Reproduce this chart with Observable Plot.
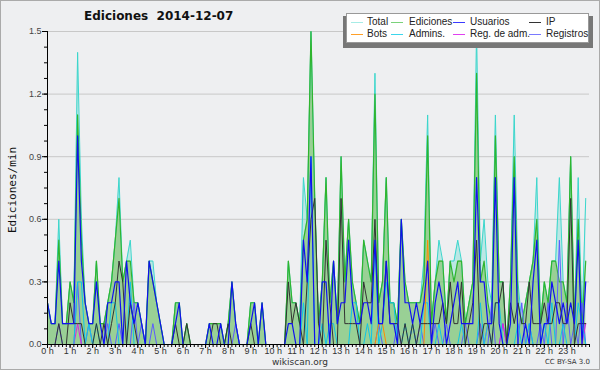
<!DOCTYPE html>
<html><head><meta charset="utf-8">
<script src="https://cdn.jsdelivr.net/npm/d3@7"></script>
<script src="https://cdn.jsdelivr.net/npm/@observablehq/plot@0.6"></script>
<style>
html,body{margin:0;padding:0;background:#eeeff1}
#wrap{position:relative;width:600px;height:370px;background:#eeeff1;overflow:hidden;font-family:"Liberation Sans",Arial,sans-serif}
#chart{position:absolute;left:0;top:0}
#frame{position:absolute;left:0;top:0;width:598px;height:368px;border:1px solid #aaaaaa;pointer-events:none}
#title{position:absolute;left:84px;top:9px;font:bold 12px "DejaVu Sans",sans-serif;color:#111;white-space:pre}
#ylab{position:absolute;left:12px;top:190px;transform:translate(-50%,-50%) rotate(-90deg);font:11px "DejaVu Sans Mono",monospace;color:#111;white-space:nowrap}
#site{position:absolute;left:300px;top:357px;transform:translateX(-50%);font:9px "DejaVu Sans",sans-serif;color:#333;line-height:10px}
#cc{position:absolute;right:10px;top:358px;font:7px "DejaVu Sans",sans-serif;color:#333;line-height:8px}
#legshadow{position:absolute;left:343px;top:16px;width:250px;height:32px;background:#777}
#legend{position:absolute;left:346px;top:13px;width:243px;height:30px;background:#fff;border:1px solid #999;box-sizing:border-box}
.lt{position:absolute;font:10px "Liberation Sans",Arial,sans-serif;color:#222;white-space:nowrap;line-height:12px}
.ls{position:absolute;height:0;border-top:1px solid}
</style></head>
<body>
<div id="wrap">
  <div id="chart"></div>
  <div id="title">Ediciones  2014-12-07</div>
  <div id="ylab">Ediciones/min</div>
  <div id="site">wikiscan.org</div>
  <div id="cc">CC BY-SA 3.0</div>
  <div id="legshadow"></div>
  <div id="legend"></div>
  <div id="frame"></div>
</div>
<script>
// 10-minute bins, values in edits per minute
const binMinutes = d3.range(144).map(i => i * 10);

const total = [
 .2,.1,.1,.6,.1,.1,.3,.2,1.4,.6, .2,.1,.1,.4,.1,.1,.2,.3,.5,.8,
 .3,.4,.5,.2,.2,.1,0,.4,.4,.2, .1,0,0,0,.2,.2,0,.1,0,0,
 0,0,0,.1,.1,.1,.1,0,.1,.3, .1,0,0,0,.2,.2,0,.2,0,0,
 0,0,0,0,.4,.2,.2,.1,.8,.6, 1.5,.7,.1,.3,.8,.2,.4,.1,.9,.3,
 .6,.3,.2,.1,.5,.4,.3,1.3,.2,.3, .8,.2,.2,.1,.6,.3,.2,.2,.2,.2,
 .4,1.1,.1,.3,.5,.4,.1,.4,.4,.5, .4,.1,.2,.3,1.5,.4,.6,.3,.2,1.1,
 .3,.3,0,.3,1.1,.3,.1,.2,.3,.4, .8,.1,.3,.2,.4,.4,.8,.3,.2,.9,
 .1,.8,.1,.7
];
const ediciones = [
 .2,.1,.1,.5,.1,.1,.3,.2,1.1,.5, .2,.1,.1,.4,.1,.1,.2,.3,.5,.7,
 .3,.4,.4,.2,.2,.1,0,.4,.3,.2, .1,0,0,0,.2,.2,0,.1,0,0,
 0,0,0,.1,.1,.1,.1,0,.1,.3, .1,0,0,0,.2,.2,0,.2,0,0,
 0,0,0,0,.4,.2,.2,.1,.5,.6, 1.5,.7,.1,.3,.8,.2,.4,.1,.9,.3,
 .6,.3,.2,.1,.5,.4,.3,1.2,.2,.3, .8,.2,.2,.1,.6,.3,.2,.2,.2,.2,
 .3,1.0,.1,.3,.4,.4,.1,.4,.3,.4, .4,.1,.2,.3,1.3,.3,.4,.2,.1,1.0,
 .3,.3,0,.3,.9,.2,.1,.2,.3,.4, .6,.1,.3,.2,.4,.4,.3,.3,.2,.9,
 .1,.6,.1,.4
];
const usuarios = [
 .2,.1,.1,.4,.1,.1,.1,.1,1.0,.4, .2,.1,.1,.3,.1,0,.2,.2,.3,.3,
 0,.4,.2,.1,.2,.1,0,.4,.3,.2, .1,0,0,0,.1,.2,0,0,0,0,
 0,0,0,.1,0,0,.1,0,0,.3, .1,0,0,0,.1,.2,0,.2,0,0,
 0,0,0,0,.1,.1,0,0,.5,.3, .9,0,0,.3,.3,0,.4,.1,.2,.2,
 .5,.2,.1,.1,.2,.2,.1,.5,.1,.1, .4,.1,.1,0,.6,.2,.2,.1,.2,.1,
 .2,.4,0,.2,.3,.2,0,.1,.2,.3, .1,.1,.1,.1,.8,.3,.3,.1,.1,.8,
 .1,0,0,.1,.8,0,0,.1,0,.3, .5,0,.1,.1,.3,.2,.1,.2,.1,.2,
 .1,.5,0,.3
];
const ip = [
 0,0,0,.1,0,0,.2,.1,.1,.1, 0,0,0,.1,0,.1,0,.1,.2,.4,
 .3,0,.2,.1,0,0,0,0,0,0, 0,0,0,0,.1,0,0,.1,0,0,
 0,0,0,0,.1,.1,0,0,.1,0, 0,0,0,0,.1,0,0,0,0,0,
 0,0,0,0,.3,.1,.2,.1,0,.3, .6,.7,.1,0,.5,.2,0,0,.7,.1,
 .1,.1,.1,0,.3,.2,.2,.6,.1,.1, .4,.1,.1,.1,0,.1,0,.1,0,.1,
 .1,.1,.1,.1,.1,.2,.1,.3,.1,.1, .3,0,.1,.2,.5,0,.1,.1,0,.2,
 .2,.3,0,.2,.1,.2,.1,.1,.3,.1, .1,.1,.2,.1,.1,.2,.2,.1,.1,.7,
 0,.1,.1,.1
];
const bots = [
 0,0,0,0,0,0,0,0,0,0, 0,0,0,0,0,0,0,0,0,0,
 0,0,0,0,0,0,0,0,0,0, 0,0,0,0,0,0,0,0,0,0,
 0,0,0,0,0,0,0,0,0,0, 0,0,0,0,0,0,0,0,0,0,
 0,0,0,0,0,0,0,0,0,0, 0,0,0,0,0,0,0,0,0,0,
 0,0,0,0,0,0,0,0,.1,.1, 0,0,0,0,0,0,0,0,0,0,
 0,.5,0,0,0,0,0,0,0,0, 0,0,0,0,0,0,0,0,0,0,
 0,0,0,0,0,0,0,0,0,0, 0,0,0,0,0,0,0,0,0,0,
 0,0,0,0
];
const admins = [
 0,0,0,0,0,0,0,0,.3,.3, 0,.1,0,.1,0,0,0,.2,.2,0,
 0,0,.3,0,0,0,0,0,0,0, 0,0,0,0,0,0,0,0,0,0,
 0,0,0,0,0,0,0,0,0,0, 0,0,0,0,0,0,0,0,0,0,
 0,0,0,0,0,0,0,0,.2,0, .9,0,0,.1,0,.1,.1,0,0,0,
 0,.2,.2,0,0,.1,0,.5,0,.1, .3,.2,.2,0,0,.1,0,.1,0,0,
 .2,.2,0,0,.1,0,0,0,0,0, .1,0,0,0,0,.2,0,.1,0,.2,
 .2,0,0,0,0,.1,0,0,.1,0, 0,0,.1,0,.2,0,0,.1,0,0,
 0,.2,.1,0
];
const regAdm = [
 0,0,0,0,0,0,0,0,.1,0, 0,0,0,0,0,0,0,0,0,0,
 0,0,0,0,0,0,0,0,0,0, 0,0,0,0,0,0,0,0,0,0,
 0,0,0,0,0,0,0,0,0,0, 0,0,0,0,0,0,0,0,0,0,
 0,0,0,0,0,0,0,0,0,0, 0,0,0,0,0,0,0,0,0,0,
 0,0,0,0,0,0,0,0,0,0, 0,0,0,0,0,0,0,0,0,0,
 0,0,0,0,0,0,0,0,0,0, 0,0,0,0,0,0,0,.1,0,0,
 0,.1,0,0,0,0,0,0,0,0, 0,0,0,0,0,0,0,0,0,0,
 0,0,0,.1
];
const registros = [
 0,0,0,.1,0,0,0,0,.3,0, 0,.1,0,0,0,0,.1,0,0,.1,
 0,0,0,.2,0,.1,0,0,.1,0, 0,0,0,0,0,0,0,0,0,0,
 0,0,0,0,0,0,0,0,0,0, .1,0,0,0,0,0,0,0,0,0,
 0,0,0,0,0,0,0,0,0,0, 0,0,0,0,0,0,0,0,0,0,
 0,0,0,0,0,0,0,0,.1,0, 0,0,0,.1,0,0,0,.1,0,.1,
 0,0,0,.1,0,0,.1,0,0,0, 0,.1,0,0,0,.1,0,0,.2,0,
 0,.1,0,0,0,0,.2,0,.1,0, 0,.1,0,.2,0,0,.5,0,.2,0,
 .1,0,.2,0
];

const yMajor = [0, 0.3, 0.6, 0.9, 1.2, 1.5];
const yMinor = d3.range(0, 1.5001, 0.075);
const xMajor = d3.range(0, 1440, 60);
const xMinor = d3.range(0, 1441, 10);

const seriesNames = ["Total", "Ediciones", "Usuarios", "IP", "Bots", "Admins.", "Reg. de adm.", "Registros"];
const seriesData = [total, ediciones, usuarios, ip, bots, admins, regAdm, registros];
const lineColors = ["#3ad6cc", "#2fb52f", "#1010f0", "#333333", "#ff8c00", "#10c4e6", "#dd22dd", "#5c5cff"];
const legendColors = ["#a6ece6", "#7ad27a", "#3a3aff", "#333333", "#ffa028", "#3cd6ec", "#e040f0", "#7a7aff"];
const lineWidths = [1, 1.2, 1.2, 1, 1, 1, 1, 1];

const rows = binMinutes.map((m, i) => ({m, total: total[i], ediciones: ediciones[i]}));

// draw order: Total, Ediciones, Registros, Reg adm, Admins, Bots, IP, Usuarios
const drawOrder = [0, 1, 7, 6, 5, 4, 3, 2];
const lineMarks = drawOrder.map(k =>
  Plot.line(binMinutes.map((m, i) => ({m, v: seriesData[k][i]})),
    {x: "m", y: "v", stroke: lineColors[k], strokeWidth: lineWidths[k]}));

const chart = Plot.plot({
  width: 600, height: 370,
  marginLeft: 47, marginRight: 11, marginTop: 31, marginBottom: 26,
  style: {background: "transparent", fontFamily: "'Liberation Sans', Arial, sans-serif", fontSize: "9px", color: "#000"},
  x: {domain: [0, 1440], axis: null, label: null},
  y: {domain: [0, 1.5], axis: null, label: null},
  marks: [
    Plot.ruleY(yMajor.slice(1), {stroke: "#c8c8c8"}),
    Plot.areaY(rows, {x: "m", y: "total", fill: "#6fdcd2", fillOpacity: 0.4}),
    Plot.areaY(rows, {x: "m", y: "ediciones", fill: "#78b946", fillOpacity: 0.5}),
    ...lineMarks,
    Plot.ruleX([0], {stroke: "#000"}),
    Plot.ruleY([0], {stroke: "#000"}),
    Plot.axisY(yMinor, {tickSize: 3, tickFormat: () => "", label: null, stroke: "#000"}),
    Plot.axisY(yMajor, {tickSize: 5, tickPadding: 1, tickFormat: d3.format(".1f"), label: null, stroke: "#000", fill: "#444", fontSize: 9}),
    Plot.axisX(xMinor, {tickSize: 3, tickFormat: () => "", label: null, stroke: "#000"}),
    Plot.axisX(xMajor, {tickSize: 4, tickPadding: -1, tickFormat: d => `${d / 60} h`, label: null, stroke: "#000", fill: "#333", fontSize: 9})
  ]
});
document.getElementById("chart").appendChild(chart);

// legend (positions relative to the legend box)
const legend = document.getElementById("legend");
const swX = [4, 44, 106, 182];
const txX = [20, 62, 123, 199];
seriesNames.forEach((name, k) => {
  const c = k % 4, top = k < 4 ? 2 : 14;
  const s = document.createElement("div");
  s.className = "ls";
  s.style.left = swX[c] + "px";
  s.style.width = "12px";
  s.style.top = (top + 6) + "px";
  s.style.borderColor = legendColors[k];
  legend.appendChild(s);
  const t = document.createElement("div");
  t.className = "lt";
  t.style.left = txX[c] + "px";
  t.style.top = top + "px";
  t.textContent = name;
  legend.appendChild(t);
});
</script>
</body></html>
